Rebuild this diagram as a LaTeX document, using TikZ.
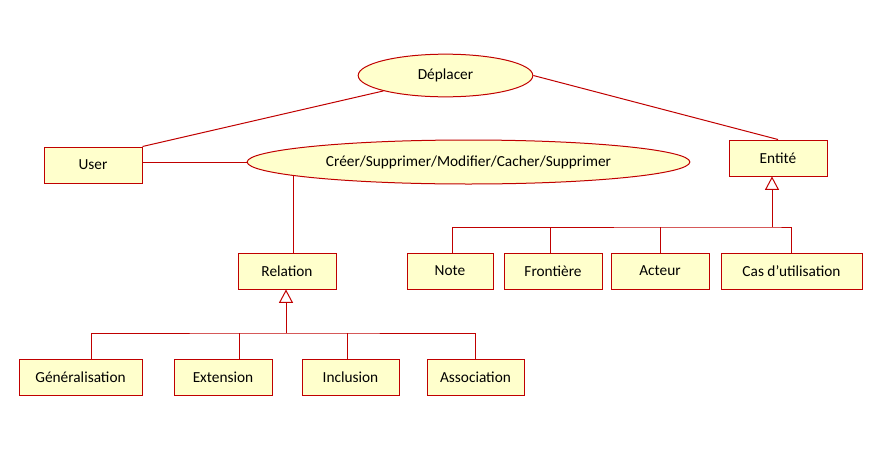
\documentclass[tikz,border=0pt]{standalone}
\usepackage{fontspec}
\setmainfont{Carlito}
\usepackage{xcolor}
\usetikzlibrary{arrows.meta}
\usetikzlibrary{shapes.geometric}

\definecolor{umlred}{RGB}{192,0,0}
\definecolor{umlfill}{RGB}{255,255,204}

\begin{document}
\begin{tikzpicture}[x=0.75pt, y=-0.75pt,
        box/.style={draw=umlred, fill=umlfill, line width=0.75pt, rectangle, inner sep=0pt, minimum height=27pt},
        usecase/.style={draw=umlred, fill=umlfill, line width=0.75pt, ellipse, inner sep=0pt},
        tie/.style={draw=umlred, line width=0.75pt},
        herit/.style={tie, -{Triangle[open, width=10.5pt, length=10pt]}}]
            \fontsize{11.5}{14}\selectfont
            \useasboundingbox (0, 0) rectangle (870, 457);

            % cas d'utilisation
            \node[usecase, minimum width=131pt, minimum height=32pt] (dep) at (445.5, 75.5) {Déplacer};
            \node[usecase, minimum width=332pt, minimum height=33pt] (creer) at (468.5, 162) {Créer/Supprimer/Modifier/Cacher/Supprimer};

            % acteur et classes
            \node[box, minimum width=73.5pt] (user) at (93, 165) {User};
            \node[box, minimum width=73.5pt] (ent) at (778, 158) {Entité};
            \node[box, minimum width=73.5pt] (rel) at (287, 271) {Relation};

            \node[box, minimum width=64.5pt] (note) at (450, 271) {Note};
            \node[box, minimum width=73.5pt] (front) at (553, 271) {Frontière};
            \node[box, minimum width=73.5pt] (act) at (660, 271) {Acteur};
            \node[box, minimum width=105.75pt] (cas) at (791.5, 271) {Cas d’utilisation};

            \node[box, minimum width=92.25pt] (gen) at (80.5, 377) {Généralisation};
            \node[box, minimum width=73.5pt] (ext) at (223, 377) {Extension};
            \node[box, minimum width=72.75pt] (inc) at (350.5, 377) {Inclusion};
            \node[box, minimum width=72.75pt] (asso) at (475.5, 377) {Association};

            % associations
            \draw[tie](user.north east)--(dep.south west);
            \draw[tie](dep.east)--(ent.north);
            \draw[tie](creer.west)--(creer.west -| user.east);
            \coordinate (crbas) at ([shift={(-175.5, 13.4)}]creer.center);
            \draw[tie](crbas)--(crbas |- rel.north);

            % heritage Entite
            \coordinate (busE) at (772, 227);
            \draw[herit](busE)--(busE |- ent.south);
            \draw[tie]([xshift=1.5pt]note.north)|-(busE)-|(cas.north);
            \draw[tie]([xshift=-2.25pt]front.north)--([xshift=-2.25pt]front.north |- busE);
            \draw[tie](act.north)--(act.north |- busE);

            % heritage Relation
            \coordinate (busR) at (286, 333);
            \draw[herit](busR)--(busR |- rel.south);
            \draw[tie]([xshift=8.6pt]gen.north)|-(busR)-|(asso.north);
            \draw[tie]([xshift=12pt]ext.north)--([xshift=12pt]ext.north |- busR);
            \draw[tie]([xshift=-1.9pt]inc.north)--([xshift=-1.9pt]inc.north |- busR);

        \end{tikzpicture}
\end{document}
